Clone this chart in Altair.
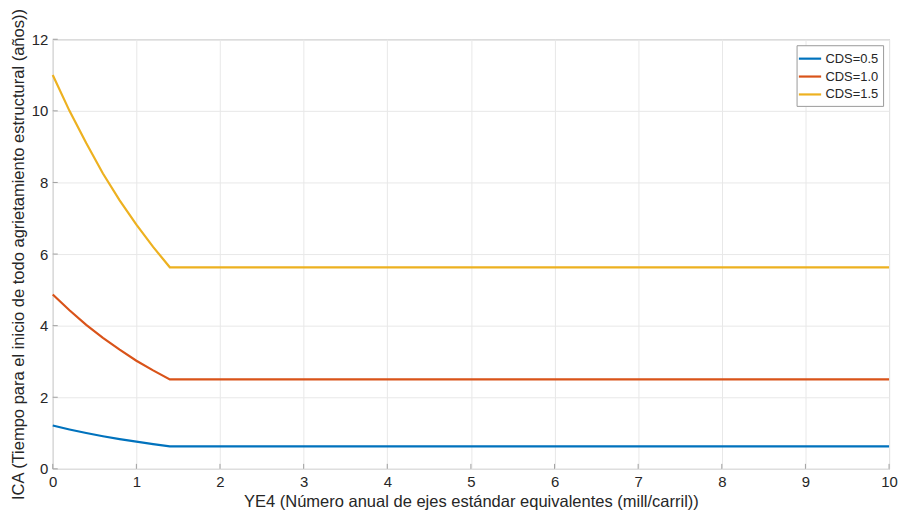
import altair as alt
import pandas as pd

x_vals = [0.0, 0.2, 0.4, 0.6, 0.8, 1.0, 1.2, 1.4, 10.0]
cds05 = [1.21, 1.10, 1.00, 0.91, 0.83, 0.76, 0.69, 0.63, 0.63]
cds10 = [4.87, 4.43, 4.02, 3.66, 3.33, 3.02, 2.75, 2.50, 2.50]
cds15 = [11.0, 10.0, 9.1, 8.25, 7.5, 6.82, 6.2, 5.63, 5.63]
series_names = ["CDS=0.5", "CDS=1.0", "CDS=1.5"]
colors = ["#0072BD", "#D95319", "#EDB120"]
x_ticks = list(range(0, 11))
y_ticks = list(range(0, 13, 2))

rows = []
for name, vals in zip(series_names, [cds05, cds10, cds15]):
    for xv, yv in zip(x_vals, vals):
        rows.append({"x": xv, "y": yv, "serie": name})
df = pd.DataFrame(rows)
xt = pd.DataFrame({"x": x_ticks})
yt = pd.DataFrame({"y": y_ticks})

font = "Liberation Sans"
W, H = 841, 432

xscale = alt.Scale(domain=[0, 10], nice=False)
yscale = alt.Scale(domain=[0, 12], nice=False)

lines = alt.Chart(df).mark_line(strokeWidth=2.2).encode(
    x=alt.X("x:Q", scale=xscale,
            axis=alt.Axis(title="YE4 (Número anual de ejes estándar equivalentes (mill/carril))",
                          values=x_ticks, format="d")),
    y=alt.Y("y:Q", scale=yscale,
            axis=alt.Axis(title="ICA (Tiempo para el inicio de todo agrietamiento estructural (años))",
                          values=y_ticks, format="d")),
    color=alt.Color("serie:N", scale=alt.Scale(domain=series_names, range=colors),
                    legend=alt.Legend(title=None, orient="top-right", offset=6,
                                      symbolType="M-1.4,0H1.4", symbolSize=256,
                                      symbolStrokeWidth=2.2, labelFontSize=13,
                                      labelFont=font, strokeColor="#999999",
                                      fillColor="white", padding=4, rowPadding=1,
                                      labelOffset=6,
                                      cornerRadius=0, labelColor="#262626")),
    order=alt.Order("x:Q"),
)

xticks_marks = alt.Chart(xt).mark_rule(color="#a0a0a0", strokeWidth=1).encode(
    x=alt.X("x:Q", scale=xscale),
    y=alt.value(H), y2=alt.value(H - 5),
)
yticks_marks = alt.Chart(yt).mark_rule(color="#a0a0a0", strokeWidth=1).encode(
    y=alt.Y("y:Q", scale=yscale),
    x=alt.value(0), x2=alt.value(5),
)

chart = alt.layer(lines, xticks_marks, yticks_marks).properties(
    width=W, height=H,
    autosize=alt.AutoSizeParams(type="none"),
    padding={"left": 45, "top": 30, "right": 10, "bottom": 50},
).configure_view(
    stroke="#a0a0a0", strokeWidth=1
).configure_axis(
    domain=False, grid=True, gridColor="#e8e8e8", gridWidth=1,
    ticks=False, labelFont=font, labelFontSize=15, labelColor="#262626",
    titleFont=font, titleFontSize=16.6, titleFontWeight="normal", titleColor="#262626",
    labelFlush=False,
).configure_axisX(titlePadding=4, labelPadding=6).configure_axisY(titlePadding=5, labelPadding=5)

chart.save("out.html", embed_options={"renderer": "svg", "actions": False})
